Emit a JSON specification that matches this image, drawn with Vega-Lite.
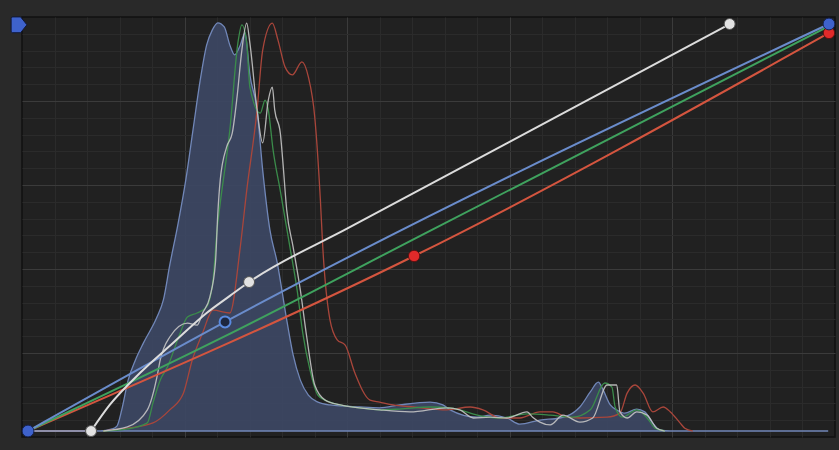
{
  "$schema": "https://vega.github.io/schema/vega-lite/v6.json",
  "width": 813,
  "height": 420,
  "autosize": {"type": "none"},
  "padding": {"left": 22, "top": 17, "right": 4, "bottom": 13},
  "background": "#292929",
  "config": {
    "view": {"fill": "#212121", "stroke": "#111111", "strokeWidth": 1.5},
    "axis": {"labels": false, "ticks": false, "domain": false, "title": null, "gridWidth": 1}
  },
  "datasets": {
    "hist": [
      {"ch":"B","x":0,"y":0},{"ch":"B","x":0.090,"y":0},{"ch":"B","x":0.105,"y":0.005},{"ch":"B","x":0.111,"y":0.012},{"ch":"B","x":0.117,"y":0.052},{"ch":"B","x":0.125,"y":0.125},{"ch":"B","x":0.134,"y":0.174},{"ch":"B","x":0.144,"y":0.216},{"ch":"B","x":0.161,"y":0.280},{"ch":"B","x":0.169,"y":0.322},{"ch":"B","x":0.177,"y":0.408},{"ch":"B","x":0.187,"y":0.506},{"ch":"B","x":0.197,"y":0.617},{"ch":"B","x":0.206,"y":0.740},{"ch":"B","x":0.215,"y":0.862},{"ch":"B","x":0.223,"y":0.948},{"ch":"B","x":0.230,"y":0.985},{"ch":"B","x":0.237,"y":1.003},{"ch":"B","x":0.245,"y":0.993},{"ch":"B","x":0.252,"y":0.948},{"ch":"B","x":0.258,"y":0.924},{"ch":"B","x":0.265,"y":0.948},{"ch":"B","x":0.271,"y":0.978},{"ch":"B","x":0.277,"y":0.875},{"ch":"B","x":0.286,"y":0.789},{"ch":"B","x":0.293,"y":0.641},{"ch":"B","x":0.302,"y":0.494},{"ch":"B","x":0.311,"y":0.415},{"ch":"B","x":0.323,"y":0.273},{"ch":"B","x":0.331,"y":0.187},{"ch":"B","x":0.340,"y":0.125},{"ch":"B","x":0.350,"y":0.088},{"ch":"B","x":0.362,"y":0.071},{"ch":"B","x":0.377,"y":0.064},{"ch":"B","x":0.414,"y":0.059},{"ch":"B","x":0.439,"y":0.057},{"ch":"B","x":0.464,"y":0.064},{"ch":"B","x":0.502,"y":0.071},{"ch":"B","x":0.518,"y":0.064},{"ch":"B","x":0.527,"y":0.052},{"ch":"B","x":0.561,"y":0.034},{"ch":"B","x":0.577,"y":0.039},{"ch":"B","x":0.598,"y":0.032},{"ch":"B","x":0.614,"y":0.017},{"ch":"B","x":0.639,"y":0.027},{"ch":"B","x":0.664,"y":0.032},{"ch":"B","x":0.680,"y":0.044},{"ch":"B","x":0.689,"y":0.059},{"ch":"B","x":0.702,"y":0.096},{"ch":"B","x":0.712,"y":0.120},{"ch":"B","x":0.718,"y":0.101},{"ch":"B","x":0.727,"y":0.064},{"ch":"B","x":0.735,"y":0.052},{"ch":"B","x":0.745,"y":0.044},{"ch":"B","x":0.760,"y":0.054},{"ch":"B","x":0.770,"y":0.047},{"ch":"B","x":0.779,"y":0.022},{"ch":"B","x":0.789,"y":0.002},{"ch":"B","x":0.802,"y":0},{"ch":"B","x":0.999,"y":0},

      {"ch":"R","x":0.094,"y":0},{"ch":"R","x":0.124,"y":0.007},{"ch":"R","x":0.156,"y":0.020},{"ch":"R","x":0.177,"y":0.052},{"ch":"R","x":0.194,"y":0.093},{"ch":"R","x":0.205,"y":0.174},{"ch":"R","x":0.218,"y":0.241},{"ch":"R","x":0.231,"y":0.297},{"ch":"R","x":0.252,"y":0.290},{"ch":"R","x":0.265,"y":0.452},{"ch":"R","x":0.273,"y":0.590},{"ch":"R","x":0.286,"y":0.789},{"ch":"R","x":0.293,"y":0.936},{"ch":"R","x":0.305,"y":1.002},{"ch":"R","x":0.312,"y":0.961},{"ch":"R","x":0.321,"y":0.894},{"ch":"R","x":0.330,"y":0.875},{"ch":"R","x":0.342,"y":0.907},{"ch":"R","x":0.350,"y":0.870},{"ch":"R","x":0.358,"y":0.771},{"ch":"R","x":0.365,"y":0.568},{"ch":"R","x":0.368,"y":0.452},{"ch":"R","x":0.377,"y":0.273},{"ch":"R","x":0.386,"y":0.224},{"ch":"R","x":0.396,"y":0.211},{"ch":"R","x":0.408,"y":0.143},{"ch":"R","x":0.427,"y":0.076},{"ch":"R","x":0.439,"y":0.071},{"ch":"R","x":0.456,"y":0.064},{"ch":"R","x":0.481,"y":0.059},{"ch":"R","x":0.523,"y":0.052},{"ch":"R","x":0.552,"y":0.059},{"ch":"R","x":0.568,"y":0.052},{"ch":"R","x":0.589,"y":0.032},{"ch":"R","x":0.614,"y":0.032},{"ch":"R","x":0.639,"y":0.047},{"ch":"R","x":0.655,"y":0.047},{"ch":"R","x":0.673,"y":0.034},{"ch":"R","x":0.689,"y":0.032},{"ch":"R","x":0.723,"y":0.034},{"ch":"R","x":0.739,"y":0.044},{"ch":"R","x":0.748,"y":0.093},{"ch":"R","x":0.758,"y":0.113},{"ch":"R","x":0.768,"y":0.093},{"ch":"R","x":0.780,"y":0.047},{"ch":"R","x":0.793,"y":0.059},{"ch":"R","x":0.802,"y":0.047},{"ch":"R","x":0.814,"y":0.020},{"ch":"R","x":0.820,"y":0.007},{"ch":"R","x":0.830,"y":0},

      {"ch":"G","x":0.094,"y":0},{"ch":"G","x":0.124,"y":0.005},{"ch":"G","x":0.149,"y":0.020},{"ch":"G","x":0.156,"y":0.069},{"ch":"G","x":0.165,"y":0.125},{"ch":"G","x":0.174,"y":0.157},{"ch":"G","x":0.190,"y":0.241},{"ch":"G","x":0.199,"y":0.280},{"ch":"G","x":0.211,"y":0.290},{"ch":"G","x":0.223,"y":0.305},{"ch":"G","x":0.231,"y":0.371},{"ch":"G","x":0.236,"y":0.494},{"ch":"G","x":0.240,"y":0.560},{"ch":"G","x":0.252,"y":0.740},{"ch":"G","x":0.262,"y":0.953},{"ch":"G","x":0.267,"y":0.998},{"ch":"G","x":0.273,"y":0.953},{"ch":"G","x":0.277,"y":0.845},{"ch":"G","x":0.290,"y":0.781},{"ch":"G","x":0.296,"y":0.813},{"ch":"G","x":0.300,"y":0.789},{"ch":"G","x":0.306,"y":0.690},{"ch":"G","x":0.315,"y":0.590},{"ch":"G","x":0.327,"y":0.452},{"ch":"G","x":0.336,"y":0.346},{"ch":"G","x":0.343,"y":0.241},{"ch":"G","x":0.352,"y":0.150},{"ch":"G","x":0.362,"y":0.088},{"ch":"G","x":0.377,"y":0.071},{"ch":"G","x":0.414,"y":0.057},{"ch":"G","x":0.439,"y":0.052},{"ch":"G","x":0.464,"y":0.054},{"ch":"G","x":0.502,"y":0.059},{"ch":"G","x":0.527,"y":0.057},{"ch":"G","x":0.539,"y":0.052},{"ch":"G","x":0.561,"y":0.039},{"ch":"G","x":0.589,"y":0.032},{"ch":"G","x":0.623,"y":0.042},{"ch":"G","x":0.652,"y":0.039},{"ch":"G","x":0.680,"y":0.034},{"ch":"G","x":0.702,"y":0.052},{"ch":"G","x":0.720,"y":0.118},{"ch":"G","x":0.729,"y":0.108},{"ch":"G","x":0.733,"y":0.059},{"ch":"G","x":0.742,"y":0.034},{"ch":"G","x":0.760,"y":0.052},{"ch":"G","x":0.773,"y":0.032},{"ch":"G","x":0.783,"y":0.007},{"ch":"G","x":0.795,"y":0},

      {"ch":"W","x":0.094,"y":0},{"ch":"W","x":0.124,"y":0.010},{"ch":"W","x":0.149,"y":0.052},{"ch":"W","x":0.161,"y":0.133},{"ch":"W","x":0.165,"y":0.174},{"ch":"W","x":0.177,"y":0.231},{"ch":"W","x":0.199,"y":0.265},{"ch":"W","x":0.211,"y":0.260},{"ch":"W","x":0.218,"y":0.290},{"ch":"W","x":0.227,"y":0.329},{"ch":"W","x":0.234,"y":0.413},{"ch":"W","x":0.237,"y":0.536},{"ch":"W","x":0.240,"y":0.617},{"ch":"W","x":0.248,"y":0.698},{"ch":"W","x":0.255,"y":0.732},{"ch":"W","x":0.261,"y":0.821},{"ch":"W","x":0.267,"y":0.936},{"ch":"W","x":0.273,"y":1.002},{"ch":"W","x":0.277,"y":0.953},{"ch":"W","x":0.286,"y":0.789},{"ch":"W","x":0.293,"y":0.708},{"ch":"W","x":0.300,"y":0.813},{"ch":"W","x":0.305,"y":0.845},{"ch":"W","x":0.308,"y":0.789},{"ch":"W","x":0.315,"y":0.732},{"ch":"W","x":0.318,"y":0.666},{"ch":"W","x":0.323,"y":0.543},{"ch":"W","x":0.331,"y":0.452},{"ch":"W","x":0.340,"y":0.346},{"ch":"W","x":0.348,"y":0.231},{"ch":"W","x":0.358,"y":0.113},{"ch":"W","x":0.371,"y":0.076},{"ch":"W","x":0.390,"y":0.064},{"ch":"W","x":0.439,"y":0.052},{"ch":"W","x":0.477,"y":0.047},{"ch":"W","x":0.523,"y":0.057},{"ch":"W","x":0.539,"y":0.052},{"ch":"W","x":0.556,"y":0.032},{"ch":"W","x":0.577,"y":0.034},{"ch":"W","x":0.598,"y":0.032},{"ch":"W","x":0.623,"y":0.047},{"ch":"W","x":0.630,"y":0.034},{"ch":"W","x":0.639,"y":0.022},{"ch":"W","x":0.652,"y":0.015},{"ch":"W","x":0.668,"y":0.039},{"ch":"W","x":0.689,"y":0.022},{"ch":"W","x":0.705,"y":0.032},{"ch":"W","x":0.723,"y":0.113},{"ch":"W","x":0.735,"y":0.113},{"ch":"W","x":0.739,"y":0.047},{"ch":"W","x":0.748,"y":0.032},{"ch":"W","x":0.760,"y":0.047},{"ch":"W","x":0.773,"y":0.039},{"ch":"W","x":0.785,"y":0.007},{"ch":"W","x":0.795,"y":0}
    ],
    "curves": [
      {"curve":"R","x":0,"y":0},{"curve":"R","x":0.482,"y":0.430},{"curve":"R","x":1,"y":0.978},
      {"curve":"G","x":0,"y":0},{"curve":"G","x":0.246,"y":0.233},{"curve":"G","x":0.5,"y":0.49},{"curve":"G","x":1,"y":0.995},
      {"curve":"B","x":0,"y":0},{"curve":"B","x":0.246,"y":0.268},{"curve":"B","x":1,"y":1},
      {"curve":"Wb","x":0,"y":0},{"curve":"Wb","x":0.0787,"y":0},
      {"curve":"W","x":0.0787,"y":0},{"curve":"W","x":0.102,"y":0.064},{"curve":"W","x":0.140,"y":0.143},{"curve":"W","x":0.181,"y":0.216},{"curve":"W","x":0.223,"y":0.290},{"curve":"W","x":0.252,"y":0.332},{"curve":"W","x":0.276,"y":0.366},{"curve":"W","x":0.40,"y":0.499},{"curve":"W","x":0.60,"y":0.709},{"curve":"W","x":0.876,"y":1.0}
    ],
    "points": [
      {"curve":"R","kind":"fill","x":0.482,"y":0.430},{"curve":"R","kind":"fill","x":1,"y":0.978},
      {"curve":"W","kind":"fill","x":0.0787,"y":0},{"curve":"W","kind":"fill","x":0.276,"y":0.366},{"curve":"W","kind":"fill","x":0.876,"y":1.0},
      {"curve":"B","kind":"fill","x":0,"y":0},{"curve":"B","kind":"fill","x":1,"y":1},
      {"curve":"B","kind":"hollow","x":0.246,"y":0.268},
      {"curve":"B","kind":"marker","x":-0.0112,"y":0.998}
    ]
  },
  "encoding": {
    "x": {"field": "x", "type": "quantitative",
      "scale": {"domain": [-0.0075, 1.0075], "nice": false, "zero": false},
      "axis": {"values": [0.0331,0.0737,0.1143,0.1549,0.1955,0.2361,0.2767,0.3173,0.3579,0.3985,0.4391,0.4797,0.5203,0.5609,0.6015,0.6421,0.6827,0.7233,0.7639,0.8045,0.8451,0.8857,0.9263,0.9669],
        "gridColor": {"condition": {"test": "indexof([0.1955,0.3985,0.6015,0.8045], datum.value) >= 0", "value": "#3b3b3b"}, "value": "#2b2b2b"}}},
    "y": {"field": "y", "type": "quantitative",
      "scale": {"domain": [-0.0147, 1.0172], "nice": false, "zero": false},
      "axis": {"values": [0.0266,0.0679,0.1091,0.1504,0.1917,0.2330,0.2742,0.3155,0.3568,0.3981,0.4393,0.4806,0.5219,0.5632,0.6044,0.6457,0.6870,0.7283,0.7695,0.8108,0.8521,0.8934,0.9347,0.9759],
        "gridColor": {"condition": {"test": "indexof([0.1917,0.3981,0.6044,0.8108], datum.value) >= 0", "value": "#3b3b3b"}, "value": "#2b2b2b"}}}
  },
  "layer": [
    {"data": {"name": "hist"}, "transform": [{"filter": "datum.ch == 'B'"}],
     "mark": {"type": "area", "interpolate": "monotone", "fill": "#3d4864", "fillOpacity": 0.92, "stroke": "#7187b8", "strokeWidth": 1.3}},
    {"data": {"name": "hist"}, "transform": [{"filter": "datum.ch == 'R'"}],
     "mark": {"type": "line", "interpolate": "monotone", "color": "#a9463b", "strokeWidth": 1.3}},
    {"data": {"name": "hist"}, "transform": [{"filter": "datum.ch == 'G'"}],
     "mark": {"type": "line", "interpolate": "monotone", "color": "#3b8c4b", "strokeWidth": 1.3}},
    {"data": {"name": "hist"}, "transform": [{"filter": "datum.ch == 'W'"}],
     "mark": {"type": "line", "interpolate": "monotone", "color": "#c4c4c4", "strokeWidth": 1.3, "opacity": 0.9}},
    {"data": {"name": "curves"}, "transform": [{"filter": "datum.curve == 'Wb'"}],
     "mark": {"type": "line", "color": "#8e8ea8", "strokeWidth": 2}},
    {"data": {"name": "curves"}, "transform": [{"filter": "datum.curve == 'R'"}],
     "mark": {"type": "line", "interpolate": "monotone", "color": "#d4553f", "strokeWidth": 2}},
    {"data": {"name": "curves"}, "transform": [{"filter": "datum.curve == 'G'"}],
     "mark": {"type": "line", "interpolate": "monotone", "color": "#3fa25e", "strokeWidth": 2}},
    {"data": {"name": "curves"}, "transform": [{"filter": "datum.curve == 'B'"}],
     "mark": {"type": "line", "interpolate": "monotone", "color": "#6a8ccb", "strokeWidth": 2}},
    {"data": {"name": "curves"}, "transform": [{"filter": "datum.curve == 'W'"}],
     "mark": {"type": "line", "interpolate": "monotone", "color": "#dcdcdc", "strokeWidth": 2}},
    {"data": {"name": "points"}, "transform": [{"filter": "datum.curve == 'R'"}],
     "mark": {"type": "point", "shape": "circle", "filled": true, "fill": "#e12a2a", "fillOpacity": 1, "stroke": "#5a1212", "strokeWidth": 1, "size": 130}},
    {"data": {"name": "points"}, "transform": [{"filter": "datum.curve == 'W'"}],
     "mark": {"type": "point", "shape": "circle", "filled": true, "fill": "#e2e2e2", "fillOpacity": 1, "stroke": "#555555", "strokeWidth": 1, "size": 120}},
    {"data": {"name": "points"}, "transform": [{"filter": "datum.curve == 'B' && datum.kind == 'fill'"}],
     "mark": {"type": "point", "shape": "circle", "filled": true, "fill": "#3e62cc", "fillOpacity": 1, "stroke": "#15214f", "strokeWidth": 1, "size": 140}},
    {"data": {"name": "points"}, "transform": [{"filter": "datum.kind == 'hollow'"}],
     "mark": {"type": "point", "shape": "circle", "filled": false, "fill": "#1d2740", "fillOpacity": 1, "stroke": "#5a8be0", "strokeWidth": 2, "size": 120}},
    {"data": {"name": "points"}, "transform": [{"filter": "datum.kind == 'marker'"}],
     "mark": {"type": "point", "shape": "M-1,-0.8 Q-1,-1 -0.8,-1 L0.2,-1 L1,0 L0.2,1 L-0.8,1 Q-1,1 -1,0.8 Z", "filled": true, "fill": "#3e62cc", "fillOpacity": 1, "stroke": "#101838", "strokeWidth": 1, "size": 250, "clip": false}}
  ]
}
